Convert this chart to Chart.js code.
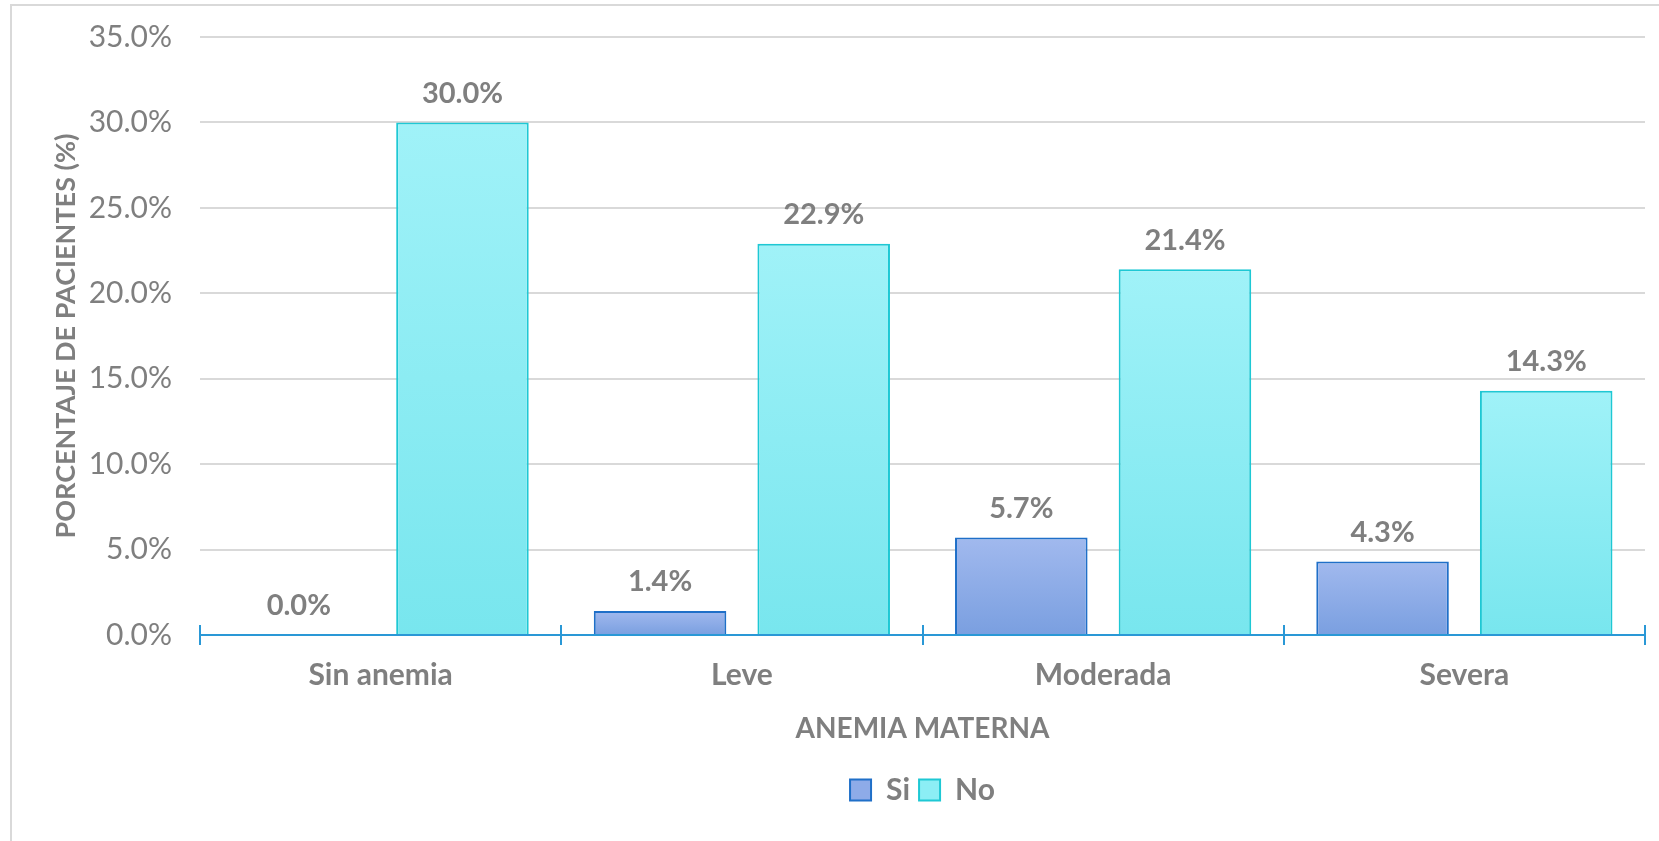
<!DOCTYPE html>
<html>
<head>
<meta charset="utf-8">
<script src="https://cdn.jsdelivr.net/npm/chart.js@4.4.1/dist/chart.umd.min.js"></script>
<style>
    html, body { margin: 0; padding: 0; background: #fff; overflow: hidden; }
    #frame { position: absolute; left: 10px; top: 4px; width: 1700px; height: 900px; border: 2px solid #d9d9d9; }
    #wrap { position: absolute; left: 0; top: 0; width: 1659px; height: 841px; }
</style>
</head>
<body>
<div id="frame"></div>
<div id="wrap"><canvas id="chart-canvas-elem"></canvas></div>
<script>
// data
var categories = ["Sin anemia", "Leve", "Moderada", "Severa"];
var si_values = [0.0, 1.4, 5.7, 4.3];
var no_values = [30.0, 22.9, 21.4, 14.3];
var y_ticks = [0, 5, 10, 15, 20, 25, 30, 35];

const GREY = '#7f7f7f';
const FONT = 'Lato, "Open Sans", sans-serif';

// vertical gradient per bar, from its top to the axis
function barGradient(top, bottom) {
    return function (context) {
        var chart = context.chart;
        var area = chart.chartArea;
        if (!area || context.type !== 'data') return top;
        var y = chart.scales.y;
        var yTop = y.getPixelForValue(context.parsed.y);
        var yBot = y.getPixelForValue(0);
        if (yBot - yTop < 1) return top;
        var g = chart.ctx.createLinearGradient(0, yTop, 0, yBot);
        g.addColorStop(0, top);
        g.addColorStop(1, bottom);
        return g;
    };
}

// value labels above the bars
const barLabels = {
    id: 'barLabels',
    afterDatasetsDraw(chart) {
        const ctx = chart.ctx;
        ctx.save();
        ctx.font = 'bold 29px ' + FONT;
        ctx.fillStyle = GREY;
        ctx.textAlign = 'center';
        ctx.textBaseline = 'middle';
        chart.data.datasets.forEach(function (ds, i) {
            chart.getDatasetMeta(i).data.forEach(function (bar, j) {
                ctx.fillText(ds.data[j].toFixed(1) + '%', bar.x, bar.y - 29);
            });
        });
        ctx.restore();
    }
};

// category separator ticks crossing the x axis
const crossTicks = {
    id: 'crossTicks',
    afterDraw(chart) {
        const x = chart.scales.x;
        const ctx = chart.ctx;
        const base = chart.scales.y.getPixelForValue(0);
        ctx.save();
        ctx.strokeStyle = '#2a98d6';
        ctx.lineWidth = 2;
        for (var i = 0; i <= categories.length; i++) {
            var px = Math.round(x.getPixelForValue(i - 0.5));
            ctx.beginPath();
            ctx.moveTo(px, base - 10);
            ctx.lineTo(px, base + 10);
            ctx.stroke();
        }
        ctx.restore();
    }
};

const ctx_bar = document.getElementById('chart-canvas-elem').getContext('2d');
var anemiaChart = new Chart(ctx_bar, {
    type: 'bar',
    data: {
        labels: categories,
        datasets: [{
            label: 'Si',
            data: si_values,
            backgroundColor: barGradient('#a1b9ee', '#7a9fe0'),
            borderColor: '#1f6fc8',
            borderWidth: 2,
            borderSkipped: 'bottom'
        }, {
            label: 'No',
            data: no_values,
            backgroundColor: barGradient('#a0f2f8', '#78e6ee'),
            borderColor: '#1ec8d4',
            borderWidth: 2,
            borderSkipped: 'bottom'
        }]
    },
    plugins: [barLabels, crossTicks],
    options: {
        responsive: true,
        maintainAspectRatio: false,
        animation: false,
        categoryPercentage: 0.906,
        barPercentage: 0.81,
        layout: {
            padding: { top: 37, right: 14, left: 10, bottom: 26 }
        },
        plugins: {
            tooltip: { enabled: false },
            legend: {
                position: 'bottom',
                fullSize: false,
                labels: {
                    color: GREY,
                    font: { family: FONT, size: 30, weight: 'bold' },
                    boxWidth: 21,
                    boxHeight: 21,
                    padding: 9,
                    generateLabels: function (chart) {
                        return [
                            { text: 'Si', fillStyle: '#8eabe8', strokeStyle: '#1f6fc8', lineWidth: 2, fontColor: GREY, datasetIndex: 0 },
                            { text: 'No', fillStyle: '#8ceef5', strokeStyle: '#1ec8d4', lineWidth: 2, fontColor: GREY, datasetIndex: 1 }
                        ];
                    }
                }
            }
        },
        scales: {
            x: {
                grid: { display: false, drawTicks: false },
                border: { display: true, color: '#2a98d6', width: 2 },
                ticks: {
                    color: GREY,
                    font: { family: FONT, size: 30, weight: 'bold' },
                    padding: 22
                },
                title: {
                    display: true,
                    text: 'ANEMIA MATERNA',
                    color: GREY,
                    font: { family: FONT, size: 28, weight: 'bold' },
                    padding: { top: 0, bottom: 20 }
                },
                afterFit: function (scale) { scale.height = 131; }
            },
            y: {
                min: 0,
                max: 35,
                afterBuildTicks: function (scale) {
                    scale.ticks = y_ticks.map(function (v) { return { value: v }; });
                },
                grid: { color: '#d9d9d9', lineWidth: 2, drawTicks: true, tickLength: 28, tickColor: 'rgba(0,0,0,0)' },
                border: { display: false },
                ticks: {
                    color: GREY,
                    font: { family: FONT, size: 30 },
                    padding: 0,
                    callback: function (v) { return v.toFixed(1) + '%'; }
                },
                title: {
                    display: true,
                    text: 'PORCENTAJE DE PACIENTES (%)',
                    color: GREY,
                    font: { family: FONT, size: 27, weight: 'bold' },
                    padding: { top: 40, bottom: 0 }
                },
                afterFit: function (scale) { scale.width = 190; }
            }
        }
    }
});
</script>
</body>
</html>
